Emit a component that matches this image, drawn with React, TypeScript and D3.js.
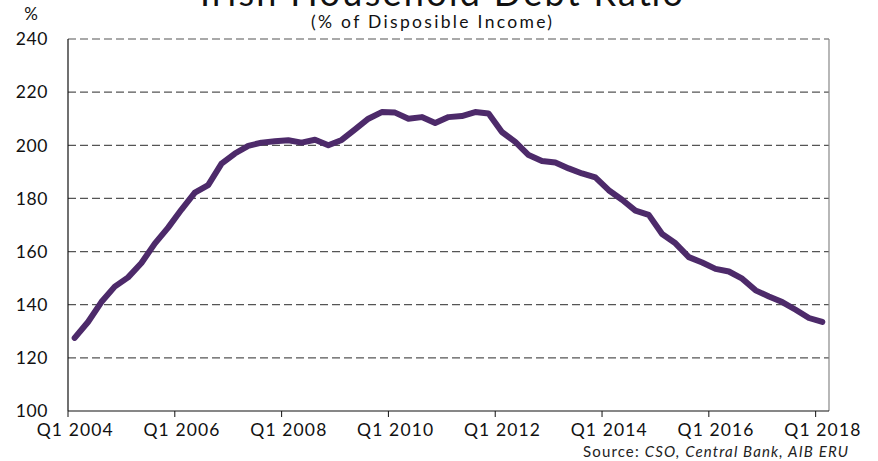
import React from 'react';
import * as d3 from 'd3';

// household debt as % of disposable income, Q1 2004 .. Q1 2018
const debtRatio = [
  127.5, 133.5, 141, 146.8, 150.3, 155.7, 163, 169, 175.8, 182.2,
  185, 193.1, 196.9, 199.8, 201, 201.5, 201.9, 201, 202.1, 200,
  202, 206, 210, 212.5, 212.3, 210, 210.6, 208.4, 210.6, 211,
  212.5, 212, 205, 201.3, 196.3, 194.1, 193.5, 191.3, 189.4, 187.9,
  183.1, 179.5, 175.4, 173.8, 166.6, 163.1, 157.9, 155.9, 153.5, 152.5,
  149.8, 145.4, 143.1, 141, 138.1, 135, 133.5,
];

const years = [2004, 2005, 2006, 2007, 2008, 2009, 2010, 2011, 2012, 2013, 2014, 2015, 2016, 2017, 2018];
const quarters: string[] = [];
years.forEach(y => ['Q1', 'Q2', 'Q3', 'Q4'].forEach(q => quarters.push(`${q} ${y}`)));
const categories = quarters.slice(0, debtRatio.length);

const xTickLabels = ['Q1 2004', 'Q1 2006', 'Q1 2008', 'Q1 2010', 'Q1 2012', 'Q1 2014', 'Q1 2016', 'Q1 2018'];
const yTicks = [100, 120, 140, 160, 180, 200, 220, 240];

const W = 878;
const H = 461;
const FONT = 'Lato, "Open Sans", sans-serif';

export default function App() {
  const margin = { top: 39, right: 49, bottom: 50, left: 68 };
  const innerW = W - margin.left - margin.right;
  const innerH = H - margin.top - margin.bottom;

  const x = d3.scaleBand<string>().domain(categories).range([0, innerW]).padding(0);
  const y = d3.scaleLinear().domain([100, 240]).range([innerH, 0]);

  const line = d3.line<number>()
    .x((_, i) => (x(categories[i]) ?? 0) + x.bandwidth() / 2)
    .y(d => y(d));

  return (
    <svg width={W} height={H} style={{ position: 'absolute', left: 0, top: 0, background: '#fff' }}
      fontFamily={FONT}>
      {/* title is clipped at the top in the original */}
      <text x={200} y={6} fontSize={36} fill="#111" textLength={483} lengthAdjust="spacing">Irish Household Debt Ratio</text>
      <text x={311} y={28} fontSize={17.5} fill="#111" textLength={241} lengthAdjust="spacing">(% of Disposible Income)</text>
      <text x={31} y={20} textAnchor="middle" fontSize={17} fill="#111">%</text>

      <g transform={`translate(${margin.left},${margin.top})`}>
        {yTicks.filter(t => t > 100).map(t => (
          <line key={t} x1={0} x2={innerW} y1={y(t)} y2={y(t)}
            stroke="#555" strokeWidth={1.2} strokeDasharray="8,4" />
        ))}
        {yTicks.map(t => (
          <text key={t} x={-20} y={y(t)} dy="0.36em" textAnchor="end" fontSize={17.5}
            letterSpacing={0.6} fill="#111">{t}</text>
        ))}

        <line x1={innerW} x2={innerW} y1={0} y2={innerH} stroke="#888" strokeWidth={1.2} />
        <line x1={0} x2={0} y1={0} y2={innerH} stroke="#111" strokeWidth={1.2} />
        <line x1={0} x2={innerW} y1={innerH} y2={innerH} stroke="#111" strokeWidth={1.2} />

        {xTickLabels.map(lbl => {
          const cx = (x(lbl) ?? 0);
          return (
            <g key={lbl}>
              <line x1={cx} x2={cx} y1={innerH} y2={innerH + 6} stroke="#111" strokeWidth={1} />
              <text x={cx + x.bandwidth() / 2 - 38} y={innerH + 25} fontSize={17.5} fill="#111"
                textLength={76} lengthAdjust="spacing">{lbl}</text>
            </g>
          );
        })}

        <path d={line(debtRatio) ?? ''} fill="none" stroke="#4d2a6a" strokeWidth={6}
          strokeLinejoin="round" strokeLinecap="round" />
      </g>

      <text x={583} y={457} fontSize={15} fill="#222" textLength={265} lengthAdjust="spacing">
        Source: <tspan fontStyle="italic">CSO, Central Bank, AIB ERU</tspan>
      </text>
    </svg>
  );
}
